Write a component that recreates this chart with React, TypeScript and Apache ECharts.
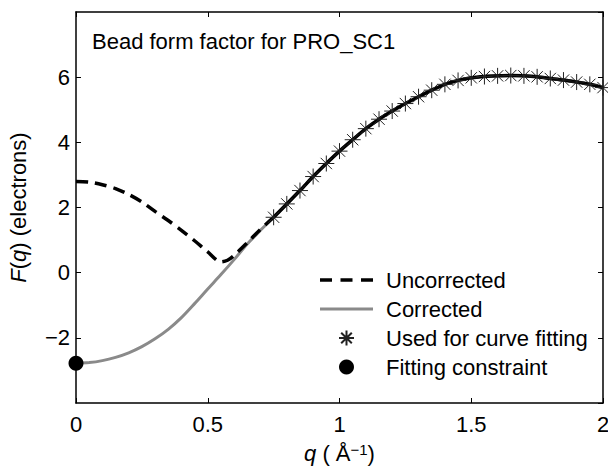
import React, { useEffect, useRef } from "react";
import * as echarts from "echarts";

const FONT = "'Liberation Sans', Arial, Helvetica, sans-serif";

// Uncorrected curve (dashed part, low q)
const qUncorrected = [0, 0.05, 0.1, 0.15, 0.2, 0.25, 0.3, 0.35, 0.4, 0.45, 0.5, 0.55, 0.575, 0.6, 0.65, 0.7, 0.75];
const fUncorrected = [2.8, 2.78, 2.7, 2.58, 2.4, 2.17, 1.88, 1.6, 1.3, 0.98, 0.64, 0.33, 0.38, 0.53, 0.92, 1.33, 1.7];

// Corrected curve (low q part)
const qCorrected = [0, 0.05, 0.1, 0.15, 0.2, 0.25, 0.3, 0.35, 0.4, 0.45, 0.5, 0.55, 0.6, 0.65, 0.7];
const fCorrected = [-2.78, -2.76, -2.7, -2.6, -2.46, -2.27, -2.03, -1.74, -1.38, -0.95, -0.5, -0.06, 0.4, 0.88, 1.3];

// Points used for curve fitting
const qFit = [0.75, 0.8, 0.85, 0.9, 0.95, 1.0, 1.05, 1.1, 1.15, 1.2, 1.25, 1.3, 1.35, 1.4, 1.45, 1.5, 1.55, 1.6, 1.65, 1.7, 1.75, 1.8, 1.85, 1.9, 1.95, 2.0];
const fFit = [1.7, 2.11, 2.52, 2.95, 3.35, 3.73, 4.08, 4.42, 4.71, 4.96, 5.19, 5.4, 5.6, 5.78, 5.9, 5.98, 6.02, 6.04, 6.05, 6.04, 6.01, 5.96, 5.91, 5.85, 5.78, 5.68];

// Fitting constraint
const qConstraint = [0];
const fConstraint = [-2.78];

const xTicks = { min: 0, max: 2, interval: 0.5 };
const yTicks = { min: -4, max: 8, interval: 2 };

const STAR = "path://M0,-10L0,10M-10,0L10,0M-7.07,-7.07L7.07,7.07M-7.07,7.07L7.07,-7.07";
const DASH_ICON = "path://M0,0h12v3.5h-12zM20.5,0h12v3.5h-12zM41,0h12v3.5h-12z";
const LINE_ICON = "path://M0,0h53v3h-53z";

const zip = (a: number[], b: number[]) => a.map((v, i) => [v, b[i]]);

export default function App() {
  const ref = useRef<HTMLDivElement>(null);
  useEffect(() => {
    if (!ref.current) return;
    const chart = echarts.init(ref.current, null, { renderer: "svg" });
    const axisLine = { show: true, onZero: false, lineStyle: { color: "#000", width: 1.5 } };
    const tick = { show: true, inside: true, length: 5, lineStyle: { color: "#000", width: 1 } };
    const fmtY = (v: number) => (v < 0 ? "\u2212" + Math.abs(v) : String(v));
    chart.setOption({
      animation: false,
      backgroundColor: "#fff",
      title: {
        text: "Bead form factor for PRO_SC1",
        left: 92,
        top: 30,
        padding: 0,
        textStyle: { fontSize: 22, fontWeight: "normal", color: "#000", fontFamily: FONT },
      },
      grid: { left: 76, right: 5, top: 12, bottom: 63, containLabel: false, outerBoundsMode: "none" },
      xAxis: [
        {
          type: "value",
          position: "bottom",
          ...xTicks,
          axisLine,
          axisTick: tick,
          splitLine: { show: false },
          axisLabel: { color: "#000", fontSize: 22, fontFamily: FONT, margin: 10 },
          name: "{i|q} ( \u00C5{sup|\u22121})",
          nameLocation: "middle",
          nameGap: 39,
          nameTextStyle: {
            color: "#000",
            fontSize: 22,
            fontFamily: FONT,
            rich: {
              i: { fontStyle: "italic", fontSize: 22, fontFamily: FONT, color: "#000" },
              sup: {
                fontSize: 15,
                fontFamily: FONT,
                color: "#000",
                verticalAlign: "top",
                lineHeight: 14,
                padding: [0, 0, 6, 0],
              },
            },
          },
        },
        {
          type: "value",
          position: "top",
          ...xTicks,
          axisLine,
          axisTick: tick,
          splitLine: { show: false },
          axisLabel: { show: false },
        },
      ],
      yAxis: [
        {
          type: "value",
          position: "left",
          ...yTicks,
          axisLine,
          axisTick: tick,
          splitLine: { show: false },
          axisLabel: {
            color: "#000",
            fontSize: 22,
            fontFamily: FONT,
            margin: 6,
            showMinLabel: false,
            showMaxLabel: false,
            formatter: fmtY,
          },
          name: "{i|F}({i|q}) (electrons)",
          nameLocation: "middle",
          nameGap: 47,
          nameRotate: 90,
          nameTextStyle: {
            color: "#000",
            fontSize: 22,
            fontFamily: FONT,
            rich: {
              i: { fontStyle: "italic", fontSize: 22, fontFamily: FONT, color: "#000" },
            },
          },
        },
        {
          type: "value",
          position: "right",
          ...yTicks,
          axisLine,
          axisTick: tick,
          splitLine: { show: false },
          axisLabel: { show: false },
        },
      ],
      legend: {
        orient: "vertical",
        left: 320,
        top: 269,
        padding: 0,
        itemWidth: 53,
        itemHeight: 15,
        itemGap: 7,
        selectedMode: false,
        textStyle: { fontSize: 22, color: "#000", fontFamily: FONT, lineHeight: 22, padding: [0, 0, 0, 8] },
        data: [
          { name: "Uncorrected", icon: DASH_ICON, itemStyle: { color: "#000" } },
          { name: "Corrected", icon: LINE_ICON, itemStyle: { color: "#8a8a8a" } },
          { name: "Used for curve fitting" },
          { name: "Fitting constraint" },
        ],
      },
      series: [
        {
          name: "Corrected",
          type: "line",
          data: zip(qCorrected.concat(qFit), fCorrected.concat(fFit)),
          symbol: "none",
          smooth: 0.3,
          lineStyle: { color: "#8a8a8a", width: 3 },
          itemStyle: { color: "#8a8a8a" },
          z: 2,
        },
        {
          name: "Uncorrected",
          type: "line",
          data: zip(qUncorrected, fUncorrected),
          symbol: "none",
          smooth: 0.3,
          lineStyle: { color: "#000", width: 3.5, type: [12, 7] },
          itemStyle: { color: "#000" },
          z: 3,
        },
        {
          name: "Uncorrected",
          type: "line",
          data: zip(qFit, fFit),
          symbol: "none",
          smooth: 0.3,
          lineStyle: { color: "#000", width: 3.5 },
          itemStyle: { color: "#000" },
          z: 3,
        },
        {
          name: "Used for curve fitting",
          type: "scatter",
          data: zip(qFit, fFit),
          symbol: STAR,
          symbolSize: 16,
          clip: false,
          itemStyle: { color: "transparent", borderColor: "#222", borderWidth: 1, opacity: 1 },
          z: 4,
        },
        {
          name: "Fitting constraint",
          type: "scatter",
          data: zip(qConstraint, fConstraint),
          symbol: "circle",
          symbolSize: 15,
          clip: false,
          itemStyle: { color: "#000", opacity: 1 },
          z: 5,
        },
      ],
    });
    return () => chart.dispose();
  }, []);
  return (
    <div
      ref={ref}
      style={{ position: "fixed", left: 0, top: 0, width: 608, height: 466, background: "#fff" }}
    />
  );
}
